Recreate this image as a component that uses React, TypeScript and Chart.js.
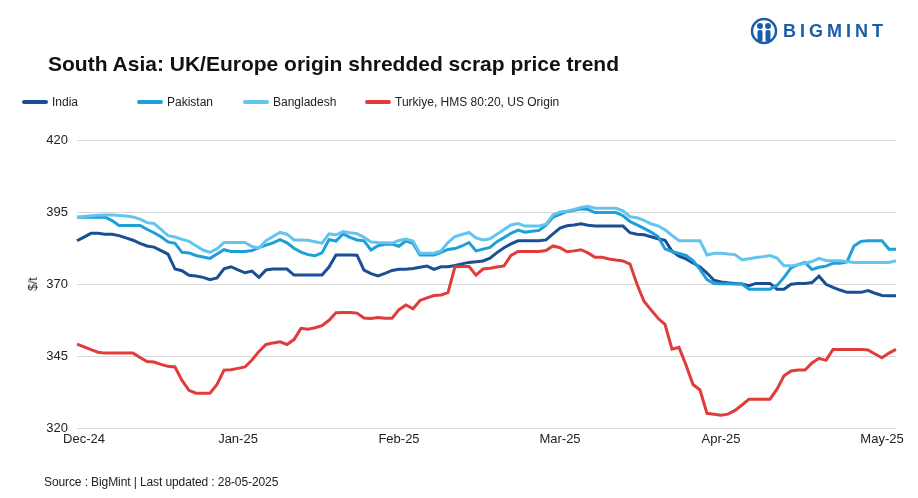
import React, { useEffect, useRef } from "react";
import { Chart, registerables } from "chart.js";

Chart.register(...registerables);

const monthLabels = ["Dec-24", "Jan-25", "Feb-25", "Mar-25", "Apr-25", "May-25"];
const monthTickIndex = [1, 23, 46, 69, 92, 115];
const yTicks = [320, 345, 370, 395, 420];

const india = [
  385.0, 386.3, 387.6, 387.6, 387.3, 387.3, 386.8, 386.0, 385.2, 384.1,
  383.2, 382.8, 381.6, 380.4, 375.2, 374.6, 373.0, 372.8, 372.3, 371.5,
  372.1, 375.3, 376.0, 374.9, 373.9, 374.5, 372.3, 374.9, 375.2, 375.2,
  375.2, 373.1, 373.1, 373.1, 373.1, 373.1, 375.9, 380.1, 380.1, 380.1,
  380.0, 374.8, 373.6, 372.8, 373.7, 374.7, 375.1, 375.1, 375.4, 375.8,
  376.2, 375.1, 376.0, 376.0, 376.4, 377.0, 377.5, 377.7, 378.0, 379.0,
  380.9, 382.6, 383.9, 385.0, 385.0, 385.0, 385.0, 385.3, 387.4, 389.4,
  390.2, 390.5, 390.9, 390.4, 390.1, 390.1, 390.1, 390.1, 390.1, 387.8,
  387.3, 387.1, 386.4, 385.7, 385.2, 381.4, 379.7, 378.7, 377.3, 375.9,
  373.8, 371.3, 370.7, 370.4, 370.2, 370.0, 369.4, 370.2, 370.2, 370.2,
  368.2, 368.2, 369.9, 370.2, 370.2, 370.5, 372.7, 369.9, 368.8, 367.9,
  367.1, 367.1, 367.1, 367.7, 366.8, 366.0, 365.9, 365.9,
];

const pakistan = [
  393.2, 393.2, 393.2, 393.2, 393.2, 392.0, 390.3, 390.3, 390.3, 390.3,
  389.0, 387.8, 386.4, 384.6, 384.1, 381.0, 380.8, 379.9, 379.4, 378.9,
  380.4, 381.9, 381.3, 381.3, 381.3, 381.6, 382.6, 383.5, 384.3, 385.4,
  384.3, 382.4, 381.1, 380.2, 379.8, 380.8, 385.4, 384.9, 387.4, 386.2,
  385.3, 385.0, 381.8, 383.3, 383.8, 383.9, 383.1, 385.0, 384.1, 380.1,
  380.1, 380.1, 381.0, 382.0, 382.3, 383.2, 384.4, 381.5, 382.1, 382.7,
  384.7, 386.1, 387.6, 388.7, 388.0, 388.3, 388.6, 390.4, 393.2, 394.2,
  395.2, 395.6, 396.1, 395.9, 394.8, 394.8, 394.8, 394.8, 393.7, 391.7,
  390.5, 389.3, 388.0, 386.5, 382.2, 381.3, 380.6, 379.9, 378.1, 375.1,
  371.5, 370.2, 370.1, 370.1, 370.0, 370.0, 368.2, 368.2, 368.2, 368.2,
  369.5, 372.3, 375.6, 376.7, 377.5, 375.0, 375.8, 376.2, 377.2, 377.2,
  377.7, 383.2, 384.8, 385.0, 385.0, 385.0, 382.1, 382.1,
];

const bangladesh = [
  393.2, 393.4, 393.7, 393.9, 394.0, 394.0, 393.8, 393.6, 393.3, 392.5,
  391.3, 391.0, 389.0, 386.8, 386.3, 385.5, 384.8, 383.3, 381.8, 381.0,
  382.2, 384.4, 384.4, 384.4, 384.4, 383.0, 382.5, 385.0, 386.5, 387.9,
  387.3, 385.3, 385.3, 385.2, 384.7, 384.2, 387.4, 387.1, 388.2, 387.8,
  387.5, 386.2, 384.6, 384.4, 384.3, 384.2, 385.1, 385.6, 384.9, 380.7,
  380.7, 380.7, 381.5, 384.4, 386.5, 387.2, 387.9, 386.0, 385.3, 385.7,
  387.3, 388.9, 390.5, 391.0, 390.1, 390.1, 390.1, 390.8, 394.0, 395.0,
  395.3, 395.9, 396.6, 397.0, 396.3, 396.3, 396.3, 396.3, 395.4, 393.4,
  393.0, 392.1, 390.9, 390.2, 388.8, 386.9, 385.0, 385.0, 385.0, 385.0,
  380.1, 380.7, 380.7, 380.4, 380.2, 378.4, 378.8, 379.2, 379.5, 379.9,
  379.0, 376.3, 376.3, 376.7, 377.2, 377.8, 378.9, 378.2, 378.1, 378.1,
  377.8, 377.5, 377.5, 377.5, 377.5, 377.5, 377.5, 378.1,
];

const turkiye = [
  349.1, 348.2, 347.2, 346.3, 346.0, 346.0, 346.0, 346.0, 346.0, 344.5,
  343.1, 342.9, 342.1, 341.4, 341.2, 336.5, 333.1, 332.1, 332.1, 332.1,
  335.1, 340.1, 340.2, 340.7, 341.2, 343.6, 346.6, 349.0, 349.5, 349.9,
  349.0, 350.7, 354.6, 354.3, 354.8, 355.5, 357.4, 360.0, 360.1, 360.1,
  359.9, 358.2, 358.0, 358.4, 358.1, 358.1, 361.1, 362.7, 361.4, 364.3,
  365.2, 366.0, 366.2, 367.0, 376.0, 376.1, 376.1, 373.1, 375.2, 375.5,
  375.9, 376.3, 379.9, 381.3, 381.3, 381.3, 381.3, 381.6, 383.2, 382.6,
  381.2, 381.5, 381.9, 380.8, 379.3, 379.3, 378.7, 378.3, 378.0, 376.9,
  369.9, 364.0, 361.0, 358.1, 356.0, 347.4, 348.0, 341.9, 335.1, 333.2,
  325.1, 324.8, 324.4, 324.8, 326.1, 328.0, 330.0, 330.0, 330.0, 330.0,
  333.5, 338.1, 339.8, 340.1, 340.1, 342.6, 344.2, 343.5, 347.3, 347.3,
  347.3, 347.3, 347.3, 347.1, 345.7, 344.4, 346.0, 347.3,
];

const seriesNames = ["India", "Pakistan", "Bangladesh", "Turkiye, HMS 80:20, US Origin"];
const seriesColors = ["#1a4f96", "#1e9fd8", "#63c5ef", "#e03c3a"];

const categories = india.map((_, i) => {
  const k = monthTickIndex.indexOf(i);
  return k >= 0 ? monthLabels[k] : "";
});

const FONT = "'Liberation Sans', Arial, sans-serif";

export default function App() {
  const canvasRef = useRef<HTMLCanvasElement | null>(null);

  useEffect(() => {
    if (!canvasRef.current) return;
    const seriesData = [india, pakistan, bangladesh, turkiye];
    const chart = new Chart(canvasRef.current, {
      type: "line",
      data: {
        labels: categories,
        datasets: seriesData.map((d, k) => ({
          label: seriesNames[k],
          data: d,
          borderColor: seriesColors[k],
          backgroundColor: seriesColors[k],
          borderWidth: 3,
          pointRadius: 0,
          pointHoverRadius: 0,
          tension: 0,
          fill: false,
          order: 3 - k,
        })),
      },
      options: {
        responsive: false,
        animation: false,
        events: [],
        layout: { padding: { left: 0, right: 22, top: 140, bottom: 40 } },
        plugins: {
          legend: { display: false },
          title: { display: false },
          tooltip: { enabled: false },
        },
        scales: {
          x: {
            type: "category",
            offset: false,
            grid: { display: false, drawTicks: false },
            border: { display: false },
            ticks: {
              autoSkip: false,
              maxRotation: 0,
              minRotation: 0,
              padding: 4,
              color: "#222",
              font: { family: FONT, size: 13 },
              callback: function (this: any, value: any) {
                const l = this.getLabelForValue(value);
                return l === "" ? null : l;
              },
            },
            afterFit: (scale: any) => {
              scale.height = 30;
            },
          },
          y: {
            min: 320,
            max: 420,
            afterBuildTicks: (axis: any) => {
              axis.ticks = yTicks.map((v) => ({ value: v }));
            },
            grid: { color: "#d9d9d9", lineWidth: 1, drawTicks: false },
            border: { display: false },
            ticks: {
              padding: 9,
              color: "#222",
              font: { family: FONT, size: 13 },
            },
            afterFit: (scale: any) => {
              scale.width = 77;
            },
          },
        },
      },
    });
    return () => chart.destroy();
  }, []);

  const legendPos = [22, 137, 243, 365];

  return (
    <div
      style={{
        position: "absolute",
        left: 0,
        top: 0,
        width: 918,
        height: 498,
        background: "#fff",
        fontFamily: FONT,
        overflow: "hidden",
      }}
    >
      <canvas
        ref={canvasRef}
        width={918}
        height={498}
        style={{ position: "absolute", left: 0, top: 0, width: 918, height: 498 }}
      />
      {/* logo */}
      <div style={{ position: "absolute", left: 750, top: 17, width: 28, height: 28 }}>
        <svg width="28" height="28" viewBox="0 0 28 28">
          <circle cx="14" cy="14" r="12" fill="none" stroke="#1b5ea8" strokeWidth="2.5" />
          <circle cx="10" cy="9" r="3" fill="#1b5ea8" />
          <circle cx="18" cy="9" r="3" fill="#1b5ea8" />
          <rect x="7.5" y="13" width="5" height="12" rx="2" fill="#1b5ea8" />
          <rect x="15.5" y="13" width="5" height="12" rx="2" fill="#1b5ea8" />
        </svg>
      </div>
      <div
        style={{
          position: "absolute",
          left: 783,
          top: 20,
          fontSize: 18,
          fontWeight: 700,
          letterSpacing: 4,
          color: "#1b5ea8",
          lineHeight: "22px",
          whiteSpace: "nowrap",
        }}
      >
        BIGMINT
      </div>
      {/* title */}
      <div
        style={{
          position: "absolute",
          left: 48,
          top: 51,
          fontSize: 21,
          fontWeight: 700,
          color: "#111",
          lineHeight: "26px",
          whiteSpace: "nowrap",
        }}
      >
        South Asia: UK/Europe origin shredded scrap price trend
      </div>
      {/* legend */}
      {seriesNames.map((n, k) => (
        <div
          key={n}
          style={{
            position: "absolute",
            left: legendPos[k],
            top: 94,
            height: 16,
            display: "flex",
            alignItems: "center",
            whiteSpace: "nowrap",
          }}
        >
          <span
            style={{
              display: "inline-block",
              width: 26,
              height: 4,
              borderRadius: 2,
              background: seriesColors[k],
              marginRight: 4,
            }}
          />
          <span style={{ fontSize: 12, color: "#222" }}>{n}</span>
        </div>
      ))}
      {/* y axis title */}
      <div
        style={{
          position: "absolute",
          left: 33,
          top: 284,
          transform: "translate(-50%, -50%) rotate(-90deg)",
          fontSize: 12,
          color: "#222",
          whiteSpace: "nowrap",
        }}
      >
        $/t
      </div>
      {/* source */}
      <div
        style={{
          position: "absolute",
          left: 44,
          top: 475,
          fontFamily: FONT,
          fontSize: 12,
          letterSpacing: -0.1,
          color: "#222",
          lineHeight: "14px",
          whiteSpace: "nowrap",
        }}
      >
        Source : BigMint | Last updated : 28-05-2025
      </div>
    </div>
  );
}
